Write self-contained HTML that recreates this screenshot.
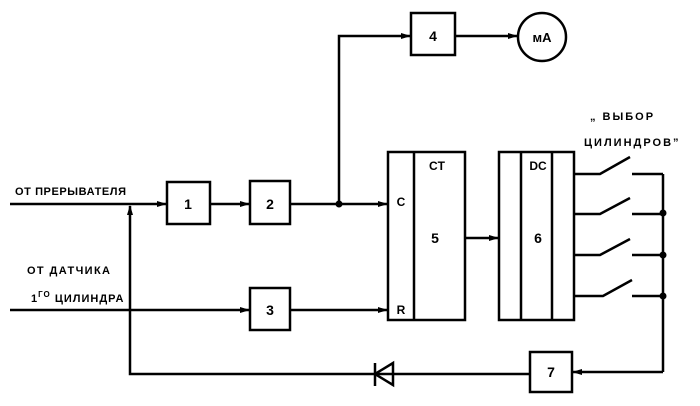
<!DOCTYPE html>
<html><head><meta charset="utf-8"><style>
html,body{margin:0;padding:0;background:#fff;}
svg{display:block;}
text{font-family:"Liberation Sans","DejaVu Sans",sans-serif;font-weight:bold;fill:#000;}
</style></head><body>
<svg width="700" height="406" viewBox="0 0 700 406" xmlns="http://www.w3.org/2000/svg">
<defs><marker id="a" markerWidth="10" markerHeight="8" refX="9" refY="4" orient="auto" markerUnits="userSpaceOnUse"><path d="M0,1 L10,4 L0,7 Z" fill="#000"/></marker></defs>
<g stroke="#000" stroke-width="2.5" fill="none">
<line x1="10" y1="204" x2="166" y2="204" marker-end="url(#a)"/>
<line x1="210" y1="204" x2="249" y2="204" marker-end="url(#a)"/>
<line x1="290" y1="204" x2="387" y2="204" marker-end="url(#a)"/>
<polyline points="339,204 339,36 410,36" marker-end="url(#a)"/>
<line x1="455" y1="36" x2="517" y2="36" marker-end="url(#a)"/>
<line x1="10" y1="310" x2="249" y2="310" marker-end="url(#a)"/>
<line x1="290" y1="310" x2="387" y2="310" marker-end="url(#a)"/>
<line x1="465" y1="238" x2="498" y2="238" marker-end="url(#a)"/>
<polyline points="530,374 130,374 130,206" marker-end="url(#a)"/>
<rect x="167" y="182" width="43" height="42"/>
<rect x="250" y="181" width="40" height="43"/>
<rect x="250" y="288" width="40" height="42"/>
<rect x="411" y="13" width="44" height="42"/>
<circle cx="542" cy="37" r="24"/>
<rect x="388" y="152" width="77" height="168"/>
<line x1="414" y1="152" x2="414" y2="320"/>
<rect x="499" y="152" width="75" height="168"/>
<line x1="521" y1="152" x2="521" y2="320"/>
<line x1="552" y1="152" x2="552" y2="320"/>
<rect x="530" y="352" width="42" height="40"/>
<line x1="663" y1="174" x2="663" y2="372"/>
<line x1="663" y1="372" x2="573" y2="372" marker-end="url(#a)"/>
<path d="M574,174 H600 L630,157 M632,174 H663"/>
<path d="M574,214 H600 L630,198 M632,214 H663"/>
<path d="M574,255 H600 L630,239 M632,255 H663"/>
<path d="M574,296 H603 L632,280 M632,296 H663"/>
<line x1="375" y1="363" x2="375" y2="386"/>
<path d="M375,374 L393,363 L393,385 Z"/>
</g>
<g fill="#000"><circle cx="339" cy="204" r="3.5"/><circle cx="663" cy="213" r="3.5"/><circle cx="663" cy="255" r="3.5"/><circle cx="663" cy="296" r="3.5"/></g>
<g font-size="14" text-anchor="middle">
<text x="188" y="209">1</text><text x="270" y="209">2</text><text x="270" y="315">3</text><text x="433" y="41">4</text>
<text x="542" y="42" font-size="13">мА</text>
<text x="435" y="243">5</text><text x="538" y="243">6</text><text x="551" y="377">7</text>
<text x="401" y="206" font-size="12">C</text><text x="401" y="314" font-size="12">R</text>
<text x="437" y="170" font-size="12">CT</text><text x="538" y="170" font-size="12">DC</text>
</g>
<g font-size="11" letter-spacing="2">
<text x="15" y="195" textLength="113" lengthAdjust="spacing">ОТ ПРЕРЫВАТЕЛЯ</text>
<text x="27" y="274" textLength="85" lengthAdjust="spacing">ОТ  ДАТЧИКА</text>
<text x="31" y="302" letter-spacing="1">1<tspan font-size="8" dy="-5">ГО</tspan><tspan dy="5"> ЦИЛИНДРА</tspan></text>
<text x="590" y="120">„ ВЫБОР</text>
<text x="584" y="146">ЦИЛИНДРОВ”</text>
</g>
</svg>
</body></html>
